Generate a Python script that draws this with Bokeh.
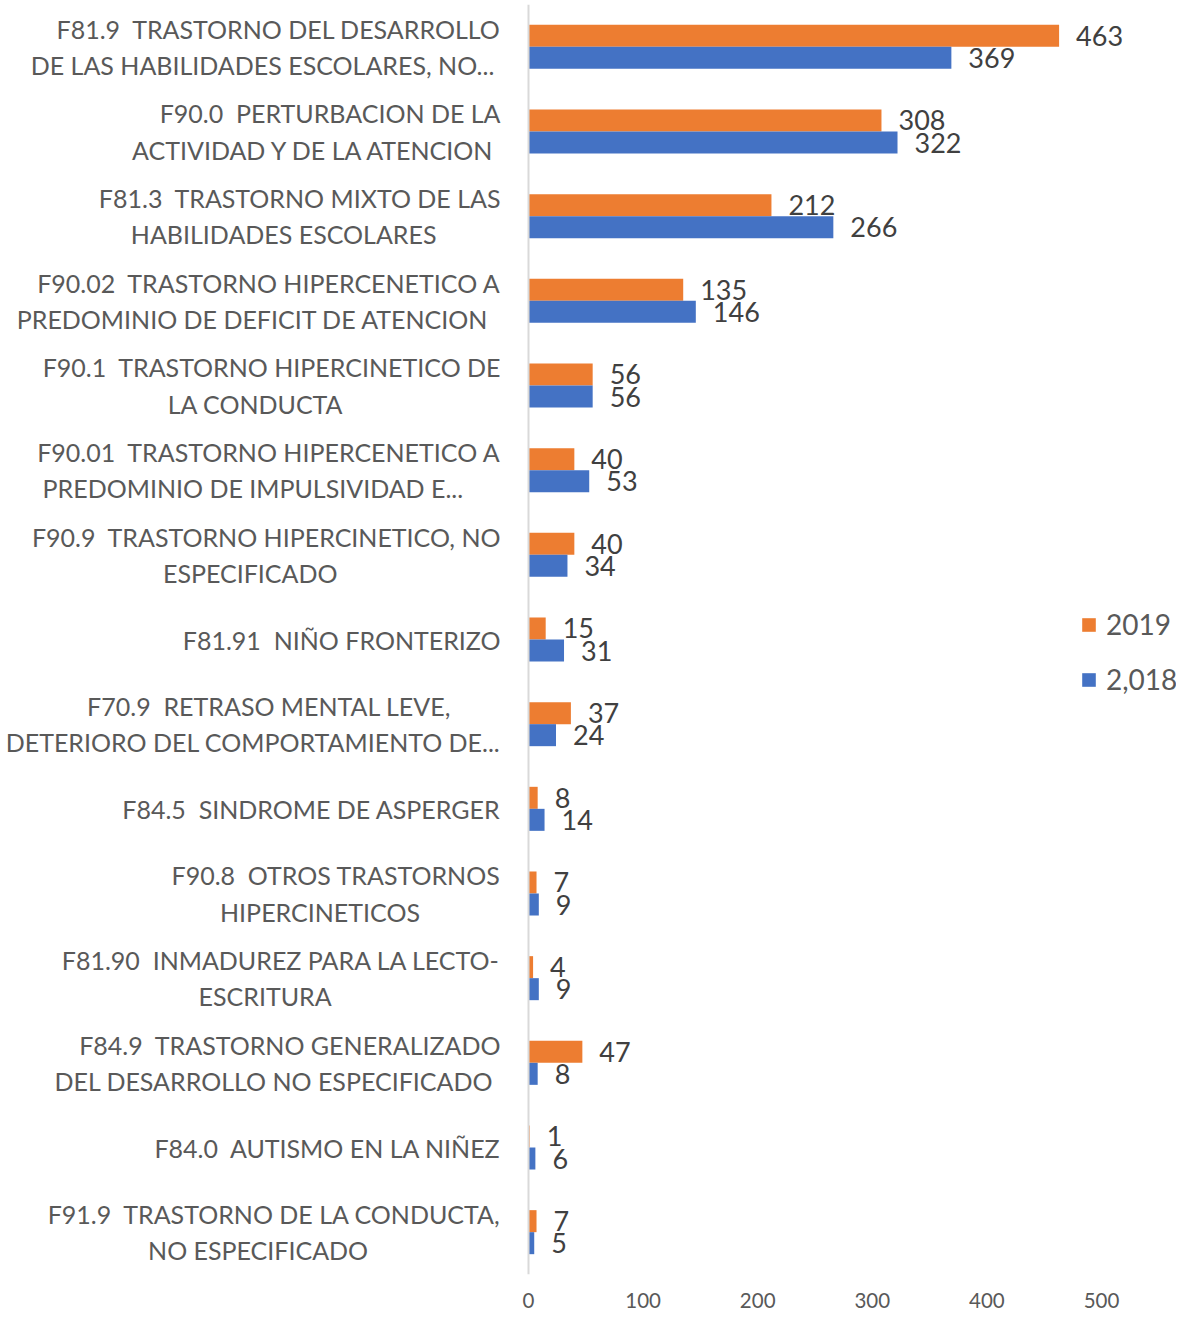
from bokeh.plotting import figure
from bokeh.models import FactorRange, Range1d, FixedTicker, Legend, LegendItem, ColumnDataSource, Span
from bokeh.transform import dodge
from bokeh.core.properties import value
from bokeh.embed import file_html
from bokeh.resources import INLINE

# ---------------- data ----------------
codes = ["F81.9", "F90.0", "F81.3", "F90.02", "F90.1", "F90.01", "F90.9", "F81.91",
         "F70.9", "F84.5", "F90.8", "F81.90", "F84.9", "F84.0", "F91.9"]
label_line1 = [
    "F81.9  TRASTORNO DEL DESARROLLO",
    "F90.0  PERTURBACION DE LA",
    "F81.3  TRASTORNO MIXTO DE LAS",
    "F90.02  TRASTORNO HIPERCENETICO A",
    "F90.1  TRASTORNO HIPERCINETICO DE",
    "F90.01  TRASTORNO HIPERCENETICO A",
    "F90.9  TRASTORNO HIPERCINETICO, NO",
    "F81.91  NIÑO FRONTERIZO",
    "F70.9  RETRASO MENTAL LEVE,",
    "F84.5  SINDROME DE ASPERGER",
    "F90.8  OTROS TRASTORNOS",
    "F81.90  INMADUREZ PARA LA LECTO-",
    "F84.9  TRASTORNO GENERALIZADO",
    "F84.0  AUTISMO EN LA NIÑEZ",
    "F91.9  TRASTORNO DE LA CONDUCTA,",
]
label_line2 = [
    "DE LAS HABILIDADES ESCOLARES, NO...",
    "ACTIVIDAD Y DE LA ATENCION",
    "HABILIDADES ESCOLARES",
    "PREDOMINIO DE DEFICIT DE ATENCION",
    "LA CONDUCTA",
    "PREDOMINIO DE IMPULSIVIDAD E...",
    "ESPECIFICADO",
    "",
    "DETERIORO DEL COMPORTAMIENTO DE...",
    "",
    "HIPERCINETICOS",
    "ESCRITURA",
    "DEL DESARROLLO NO ESPECIFICADO",
    "",
    "NO ESPECIFICADO",
]
series_2019 = [463, 308, 212, 135, 56, 40, 40, 15, 37, 8, 7, 4, 47, 1, 7]
series_2018 = [369, 322, 266, 146, 56, 53, 34, 31, 24, 14, 9, 9, 8, 6, 5]
legend_labels = ["2019", "2,018"]
x_ticks = [0, 100, 200, 300, 400, 500]

# ---------------- styling / layout ----------------
ORANGE = "#ED7D31"
BLUE = "#4472C4"
FONT = "Lato"
W, H = 1176, 1310
ZERO_PX = 528          # screen px where value 0 sits
PX_PER_UNIT = 1.146
FRAME_TOP = 4
FRAME_BOTTOM = 1277
NB = "\u00A0"
LEAD = NB * 5          # Excel-like wrap offset for first line


def keep_spaces(s):
    return s.replace("  ", " " + NB)


labels = [(LEAD + keep_spaces(a) + "\n" + b) if b else keep_spaces(a)
          for a, b in zip(label_line1, label_line2)]

src = ColumnDataSource(dict(
    code=codes, label=labels,
    v19=series_2019, v18=series_2018,
    t19=[str(v) for v in series_2019], t18=[str(v) for v in series_2018],
    zero=[0] * len(codes),
))

p = figure(
    width=W, height=H, output_backend="svg", toolbar_location=None,
    y_range=FactorRange(factors=codes[::-1], range_padding=0),
    x_range=Range1d(-ZERO_PX / PX_PER_UNIT, (W - ZERO_PX) / PX_PER_UNIT),
    min_border_left=0, min_border_right=0, min_border_top=FRAME_TOP,
    min_border_bottom=H - FRAME_BOTTOM,
)
p.outline_line_color = None
p.xgrid.visible = False
p.ygrid.visible = False
p.yaxis.visible = False

xa = p.xaxis[0]
xa.ticker = FixedTicker(ticks=x_ticks)
xa.axis_line_color = None
xa.major_tick_line_color = None
xa.minor_tick_line_color = None
xa.major_label_text_font = FONT
xa.major_label_text_font_size = "20.5px"
xa.major_label_text_color = "#595959"
xa.major_label_standoff = 12

p.add_layout(Span(location=0, dimension="height", line_color="#D9D9D9", line_width=2))

BAR_H = 0.26
r19 = p.hbar(y=dodge("code", BAR_H / 2, range=p.y_range), right="v19", left=0, height=BAR_H,
             fill_color=ORANGE, line_color=None, source=src)
r18 = p.hbar(y=dodge("code", -BAR_H / 2, range=p.y_range), right="v18", left=0, height=BAR_H,
             fill_color=BLUE, line_color=None, source=src)

for col, tcol, off in (("v19", "t19", BAR_H / 2), ("v18", "t18", -BAR_H / 2)):
    p.text(x=col, y=dodge("code", off, range=p.y_range), text=tcol, source=src,
           x_offset=17, text_align="left", text_baseline="middle",
           text_font=value(FONT), text_font_size="27px", text_color="#404040")

p.text(x="zero", y="code", text="label", source=src, x_offset=-28,
       anchor="center_right", text_align="center", text_baseline="middle",
       text_font=value(FONT), text_font_size="25px", text_color="#595959",
       text_line_height=1.21)

legend = Legend(items=[LegendItem(label=legend_labels[0], renderers=[r19]),
                       LegendItem(label=legend_labels[1], renderers=[r18])],
                location=(1080, 578))
legend.glyph_width = 17
legend.glyph_height = 17
legend.label_text_font = FONT
legend.label_text_font_size = "28px"
legend.label_text_color = "#595959"
legend.label_standoff = 9
legend.spacing = 21
legend.padding = 0
legend.margin = 0
legend.border_line_color = None
legend.background_fill_alpha = 0
p.add_layout(legend)

open("out.html", "w").write(file_html(p, INLINE))
